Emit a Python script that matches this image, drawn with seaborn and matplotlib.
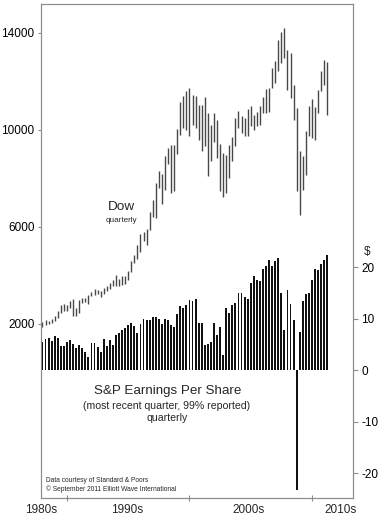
import numpy as np
import pandas as pd
import matplotlib
matplotlib.use("Agg")
import matplotlib.pyplot as plt
import seaborn as sns

# ---------------- data ----------------
years = list(range(1988, 2012))
quarter_pos = [y + q * 0.25 for y in years for q in range(4)][:94]   # 1988Q1 .. 2011Q2 slots

dow_high = [2090, 2165, 2140, 2200, 2345, 2530, 2790, 2810, 2800, 2960, 3020, 2650,
            2990, 3060, 3080, 3190, 3310, 3440, 3400, 3350, 3500, 3580, 3680, 3820,
            4000, 3860, 3980, 3960, 4200, 4590, 4830, 5250, 5720, 5810, 5920, 6600,
            7110, 7830, 8300, 8200, 8940, 9250, 9370, 9400, 10050, 11150, 11390, 11590,
            11732, 11456, 11414, 11043, 11043, 11361, 10701, 10219, 10690, 10420, 9435, 9052,
            8982, 9365, 9700, 10495, 10767, 10590, 10495, 10866, 11002, 10631, 10726, 10973,
            11361, 11691, 11732, 12557, 12829, 13724, 14025, 14206, 13311, 13175, 11868, 10907,
            9118, 8912, 9942, 10973, 11278, 10948, 11662, 12416, 12899, 12788]
dow_low = [1880, 1940, 1980, 2030, 2140, 2250, 2440, 2550, 2540, 2640, 2340, 2340,
           2450, 2850, 2900, 2840, 3140, 3180, 3220, 3120, 3220, 3350, 3430, 3560,
           3570, 3570, 3600, 3650, 3810, 4150, 4530, 4690, 4980, 5420, 5240, 5880,
           6420, 6390, 7600, 6940, 7540, 8580, 7400, 7470, 9000, 9800, 10080, 10000,
           9736, 10219, 10082, 9600, 9118, 9324, 8087, 8720, 9500, 8850, 7468, 7220,
           7402, 8021, 8706, 9324, 10082, 9876, 9736, 9736, 10149, 10012, 10149, 10219,
           10701, 10701, 10726, 11732, 11938, 12416, 12763, 12969, 11662, 11320, 10425, 7468,
           6507, 7538, 8157, 9736, 9670, 9600, 10701, 11592, 11868, 10631]
eps = [5.5, 6.1, 6.3, 5.6, 6.6, 6.3, 4.8, 4.8, 5.4, 5.9, 5.2, 4.4,
       5.0, 4.3, 3.6, 2.5, 5.3, 5.3, 4.6, 3.5, 6.0, 4.8, 5.8, 5.0,
       6.9, 7.3, 7.8, 8.3, 8.8, 9.2, 8.6, 7.3, 8.9, 10.0, 9.8, 9.7,
       10.4, 10.4, 10.0, 8.9, 10.0, 9.7, 8.8, 8.5, 11.0, 12.5, 12.0, 12.7,
       13.7, 13.5, 13.8, 9.1, 9.2, 4.9, 5.2, 5.4, 9.2, 6.8, 8.5, 3.0,
       12.0, 11.1, 12.6, 13.1, 15.1, 15.1, 14.2, 13.9, 16.9, 18.3, 17.5, 17.3,
       19.7, 20.2, 21.4, 20.2, 21.3, 21.9, 15.1, 7.8, 15.6, 12.9, 9.7, -23.25,
       7.5, 13.5, 14.8, 15.1, 17.5, 19.6, 19.5, 20.6, 21.4, 22.3]

dow_ticks = [2000, 6000, 10000, 14000]
eps_ticks = [-20, -10, 0, 10, 20]
decade_ticks = [1990, 2000, 2010]
decade_labels = ["1980s", "1990s", "2000s", "2010s"]
decade_label_pos = [1987.9, 1994.9, 2004.8, 2012.3]

df = pd.DataFrame({"t": quarter_pos, "high": dow_high, "low": dow_low, "eps": eps})

# ---------------- style ----------------
sns.set_style("white")
plt.rcParams["font.family"] = ["Liberation Sans", "DejaVu Sans"]
spine_col = "#8c8c8c"

fig = plt.figure(figsize=(3.79, 5.17), dpi=100)
ax = fig.add_axes([40.5 / 379, 1 - 498 / 517, (353 - 40.5) / 379, (498 - 4.3) / 517])
ax2 = ax.twinx()

# EPS bars (right axis)
sns.barplot(data=df, x="t", y="eps", native_scale=True, ax=ax2, color="#111111",
            saturation=1, width=0.6, errorbar=None, linewidth=0, edgecolor="none")

# Dow quarterly range bars (left axis)
ax.vlines(df["t"], df["low"], df["high"], color="#484848", linewidth=1.0)

ax.set_xlim(1987.84, 2013.35)
ax.set_ylim(-5175, 15183)
ax2.set_ylim(-24.8, 71.07)

ax.set_yticks(dow_ticks)
ax.set_yticklabels([str(v) for v in dow_ticks], fontsize=8.5)
ax2.set_yticks(eps_ticks)
ax2.set_yticklabels([str(v) for v in eps_ticks], fontsize=8.5)
ax.set_xticks(decade_ticks)
ax.set_xticklabels([])
ax2.set_xlabel("")
ax2.set_ylabel("")
ax.set_xlabel("")
ax.set_ylabel("")

ax.tick_params(axis="y", direction="out", length=2.3, width=0.8, color=spine_col, pad=2, labelcolor="black", left=True)
ax2.tick_params(axis="y", direction="out", length=3.8, width=0.8, color=spine_col, pad=2, labelcolor="black", right=True)
ax.tick_params(axis="x", direction="inout", length=4.5, width=0.8, color=spine_col, bottom=True)
ax2.tick_params(axis="x", bottom=False, labelbottom=False)

for a in (ax, ax2):
    for s in a.spines.values():
        s.set_color(spine_col)
        s.set_linewidth(0.8)
        s.set_visible(True)

for lab, xp in zip(decade_labels, decade_label_pos):
    ax.text(xp, -0.025, lab, transform=ax.get_xaxis_transform(), ha="center", va="center", fontsize=8.5)

def ftext(x, y, s, size, **kw):
    fig.text(x / 379, 1 - y / 517, s, fontsize=size, ha="center", va="center", **kw)

ftext(121, 207, "Dow", 9.7)
ftext(121, 220, "quarterly", 5.9)
ftext(168, 391, "S&P Earnings Per Share", 9.6)
ftext(167, 406, "(most recent quarter, 99% reported)", 7.6)
ftext(167, 418, "quarterly", 7.6)
ftext(367, 252, "$", 8.5)
fig.text(45.5 / 379, 1 - 481 / 517, "Data courtesy of Standard & Poors", fontsize=4.8, ha="left", va="center")
fig.text(45.5 / 379, 1 - 489 / 517, "\u00a9 September 2011 Elliott Wave International", fontsize=4.8, ha="left", va="center")

fig.savefig("out.png", dpi=100)
